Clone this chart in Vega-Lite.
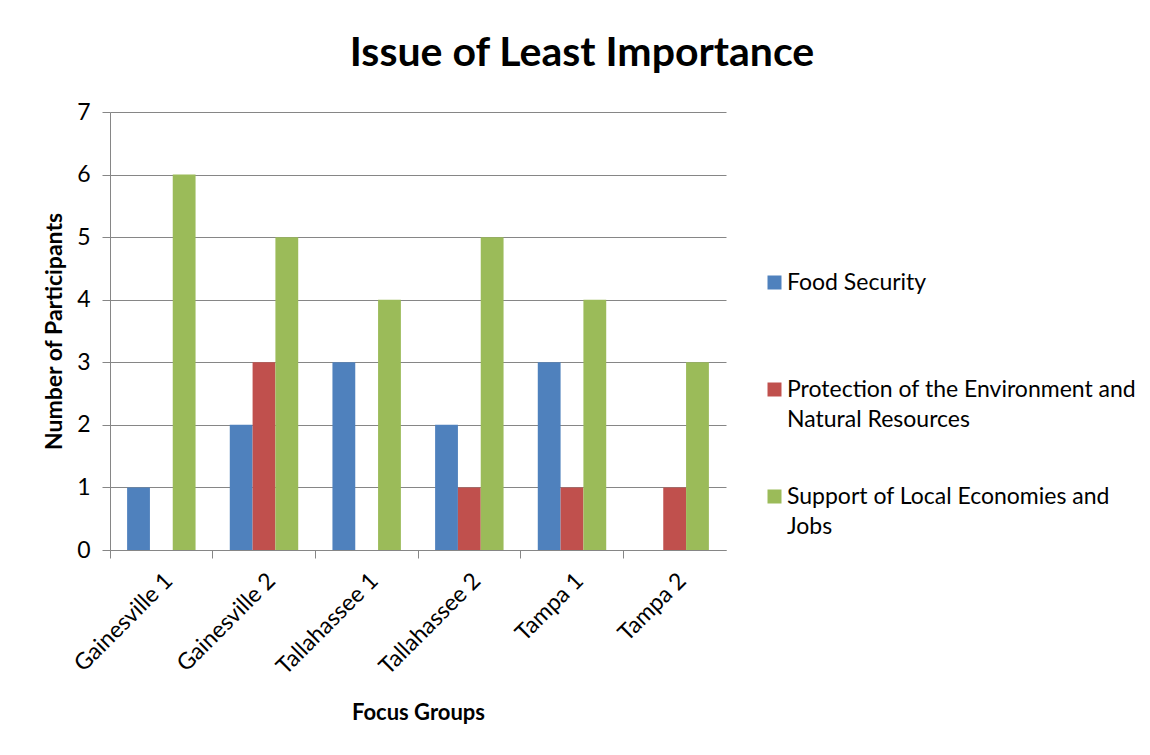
{
  "$schema": "https://vega.github.io/schema/vega-lite/v6.json",
  "autosize": "none",
  "width": 616,
  "height": 438,
  "padding": {"left": 110, "top": 112, "right": 424, "bottom": 205},
  "background": "white",
  "title": {
    "text": "Issue of Least Importance",
    "font": "Lato",
    "fontSize": 41,
    "fontWeight": "bold",
    "color": "#000000",
    "anchor": "middle",
    "dx": 164,
    "offset": 26
  },
  "data": {
    "values": [
      {"group": "Gainesville 1", "issue": "Food Security", "count": 1},
      {"group": "Gainesville 1", "issue": "Protection of the Environment and Natural Resources", "count": 0},
      {"group": "Gainesville 1", "issue": "Support of Local Economies and Jobs", "count": 6},
      {"group": "Gainesville 2", "issue": "Food Security", "count": 2},
      {"group": "Gainesville 2", "issue": "Protection of the Environment and Natural Resources", "count": 3},
      {"group": "Gainesville 2", "issue": "Support of Local Economies and Jobs", "count": 5},
      {"group": "Tallahassee 1", "issue": "Food Security", "count": 3},
      {"group": "Tallahassee 1", "issue": "Protection of the Environment and Natural Resources", "count": 0},
      {"group": "Tallahassee 1", "issue": "Support of Local Economies and Jobs", "count": 4},
      {"group": "Tallahassee 2", "issue": "Food Security", "count": 2},
      {"group": "Tallahassee 2", "issue": "Protection of the Environment and Natural Resources", "count": 1},
      {"group": "Tallahassee 2", "issue": "Support of Local Economies and Jobs", "count": 5},
      {"group": "Tampa 1", "issue": "Food Security", "count": 3},
      {"group": "Tampa 1", "issue": "Protection of the Environment and Natural Resources", "count": 1},
      {"group": "Tampa 1", "issue": "Support of Local Economies and Jobs", "count": 4},
      {"group": "Tampa 2", "issue": "Food Security", "count": 0},
      {"group": "Tampa 2", "issue": "Protection of the Environment and Natural Resources", "count": 1},
      {"group": "Tampa 2", "issue": "Support of Local Economies and Jobs", "count": 3}
    ]
  },
  "mark": {"type": "bar"},
  "encoding": {
    "x": {
      "field": "group",
      "type": "nominal",
      "sort": null,
      "scale": {"paddingInner": 0, "paddingOuter": 0},
      "axis": {
        "title": "Focus Groups",
        "titleFont": "Lato",
        "titleFontSize": 22,
        "titleFontWeight": "bold",
        "titleColor": "#000000",
        "titlePadding": 24,
        "labelAngle": -45,
        "labelFont": "Lato",
        "labelFontSize": 23,
        "labelColor": "#000000",
        "labelPadding": 11,
        "bandPosition": 0,
        "tickSize": 8,
        "tickColor": "#868686",
        "domainColor": "#868686",
        "grid": false
      }
    },
    "xOffset": {
      "field": "issue",
      "type": "nominal",
      "scale": {"paddingInner": 0, "paddingOuter": 0.75}
    },
    "y": {
      "field": "count",
      "type": "quantitative",
      "scale": {"domain": [0, 7], "nice": false},
      "axis": {
        "title": "Number of Participants",
        "titleFont": "Lato",
        "titleFontSize": 23,
        "titleFontWeight": "bold",
        "titleColor": "#000000",
        "titlePadding": 10,
        "values": [0, 1, 2, 3, 4, 5, 6, 7],
        "labelOverlap": false,
        "labelFont": "Lato",
        "labelFontSize": 23,
        "labelColor": "#000000",
        "labelPadding": 12,
        "tickSize": 8,
        "tickColor": "#868686",
        "domainColor": "#868686",
        "gridColor": "#868686",
        "grid": true
      }
    },
    "color": {
      "field": "issue",
      "type": "nominal",
      "scale": {
        "domain": ["Food Security", "Protection of the Environment and Natural Resources", "Support of Local Economies and Jobs"],
        "range": ["#4F81BD", "#C0504D", "#9BBB59"]
      },
      "legend": {
        "title": null,
        "orient": "none",
        "legendX": 653,
        "legendY": 159,
        "symbolType": "square",
        "symbolSize": 196,
        "symbolStrokeWidth": 0,
        "labelFont": "Lato",
        "labelFontSize": 23,
        "labelColor": "#000000",
        "labelLimit": 500,
        "labelOffset": 1,
        "rowPadding": 53,
        "labelExpr": "datum.label == 'Protection of the Environment and Natural Resources' ? ['Protection of the Environment and', 'Natural Resources'] : datum.label == 'Support of Local Economies and Jobs' ? ['Support of Local Economies and', 'Jobs'] : [datum.label, ' ']",
        "encode": {
          "labels": {"update": {"lineHeight": {"value": 30}}}
        }
      }
    }
  },
  "config": {
    "view": {"stroke": null},
    "axis": {"gridWidth": 1, "domainWidth": 1, "tickWidth": 1}
  }
}
